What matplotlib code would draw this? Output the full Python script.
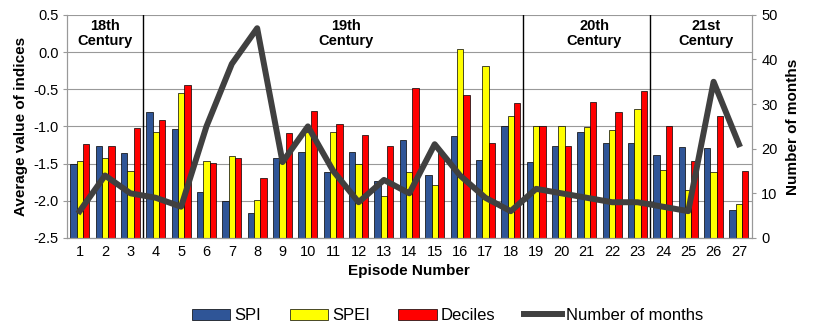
import numpy as np
import matplotlib.pyplot as plt

plt.rcParams['font.family'] = ['Liberation Sans', 'DejaVu Sans']
plt.rcParams['axes.unicode_minus'] = False

episodes = list(range(1, 28))
spi = [-1.50, -1.27, -1.36, -0.81, -1.03, -1.88, -2.00, -2.17, -1.42, -1.35,
       -1.61, -1.35, -1.74, -1.18, -1.65, -1.13, -1.45, -0.99, -1.48, -1.26,
       -1.08, -1.22, -1.23, -1.38, -1.28, -1.29, -2.12]
spei = [-1.47, -1.43, -1.60, -1.08, -0.55, -1.47, -1.40, -1.99, -1.47, -1.08,
        -1.08, -1.51, -1.94, -1.61, -1.79, 0.04, -0.19, -0.86, -1.00, -0.99,
        -1.01, -1.05, -0.76, -1.58, -1.85, -1.61, -2.04]
deciles = [-1.24, -1.26, -1.02, -0.91, -0.45, -1.49, -1.42, -1.70, -1.09, -0.79,
           -0.97, -1.11, -1.27, -0.48, -1.34, -0.58, -1.22, -0.68, -1.00, -1.27,
           -0.67, -0.81, -0.53, -0.99, -1.47, -0.86, -1.60]
months = [6, 14, 10, 9, 7, 25, 39, 47, 17, 25, 15, 8, 13, 10, 21, 14, 9, 6,
          11, 10, 9, 8, 8, 7, 6, 35, 21]

centuries = ['18th\nCentury', '19th\nCentury', '20th\nCentury', '21st\nCentury']
century_pos = [2, 11.5, 21.3, 25.7]
breaks = [3.5, 18.5, 23.5]

base = -2.5
x = np.array(episodes)
w = 0.25

fig = plt.figure(figsize=(8.17, 3.30), dpi=100)
ax = fig.add_axes([0.082, 0.279, 0.838, 0.676])
ax2 = ax.twinx()

b1 = ax.bar(x - w, np.array(spi) - base, w, bottom=base, color='#2F5597',
            edgecolor='black', linewidth=0.5, label='SPI', zorder=2)
b2 = ax.bar(x, np.array(spei) - base, w, bottom=base, color='#FFFF00',
            edgecolor='black', linewidth=0.5, label='SPEI', zorder=2)
b3 = ax.bar(x + w, np.array(deciles) - base, w, bottom=base, color='#FF0000',
            edgecolor='black', linewidth=0.5, label='Deciles', zorder=2)

for b in breaks:
    ax.axvline(b, color='black', linewidth=1, zorder=3)
for lbl, p in zip(centuries, century_pos):
    ax.text(p, 0.45, lbl, ha='center', va='top', fontsize=10.5,
            fontweight='bold', linespacing=1.1, zorder=4)

ax.set_xlim(0.5, 27.5)
ax.set_ylim(-2.5, 0.5)
ax.set_yticks(np.arange(-2.5, 0.51, 0.5))
ax.set_yticklabels([f'{v:.1f}' for v in np.arange(-2.5, 0.51, 0.5)])
ax.set_xticks(x)
ax.yaxis.grid(True, color='#999999', linewidth=0.8, zorder=0)
ax.set_axisbelow(True)
ax.tick_params(axis='x', labelsize=10.5, length=0, pad=5)
ax.tick_params(axis='y', labelsize=10.5, length=3, color='#999999', pad=3)
ax.set_xlabel('Episode Number', fontsize=11, fontweight='bold', labelpad=4)
ax.set_ylabel('Average value of indices', fontsize=11, fontweight='bold',
              labelpad=4)

l1, = ax2.plot(x, months, color='#404040', linewidth=4.3,
               label='Number of months', zorder=5)
ax2.set_ylim(0, 50)
ax2.set_yticks(range(0, 51, 10))
ax2.tick_params(axis='y', labelsize=10.5, length=3, color='#999999', pad=4)
ax2.set_ylabel('Number of months', fontsize=11, fontweight='bold', labelpad=6)

for a in (ax, ax2):
    for s in a.spines.values():
        s.set_color('#999999')
        s.set_linewidth(0.8)
    a.spines['top'].set_visible(False)

fig.legend([b1, b2, b3, l1], ['SPI', 'SPEI', 'Deciles', 'Number of months'],
           loc='lower center', bbox_to_anchor=(0.548, -0.025), ncol=4,
           frameon=False, fontsize=12, handlelength=2.3, handleheight=0.7,
           columnspacing=1.7, handletextpad=0.25)

fig.savefig('out.png', dpi=100)
